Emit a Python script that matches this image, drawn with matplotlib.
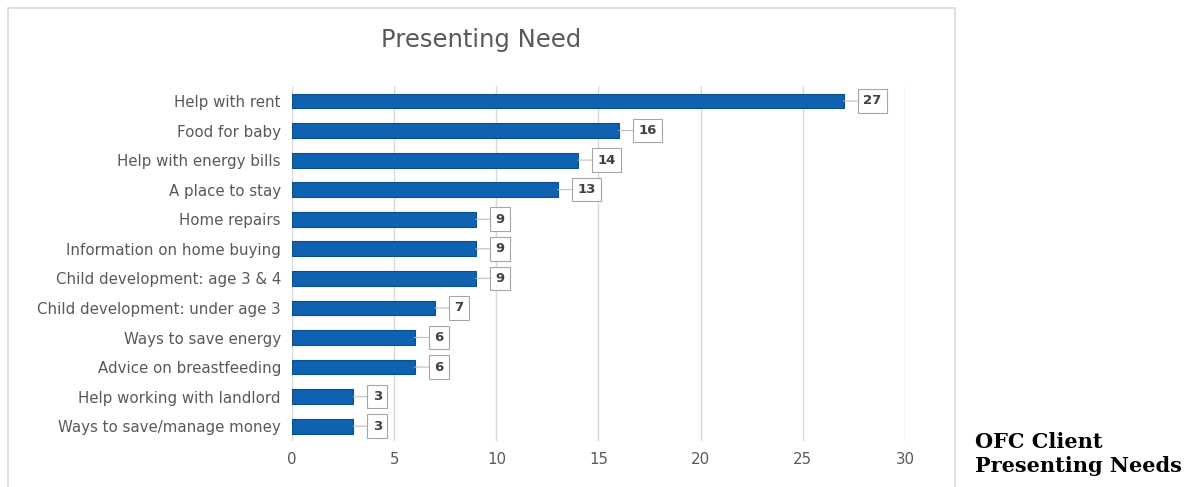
import matplotlib.pyplot as plt
from matplotlib.patches import Rectangle

categories = ["Help with rent", "Food for baby", "Help with energy bills", "A place to stay",
              "Home repairs", "Information on home buying", "Child development: age 3 & 4",
              "Child development: under age 3", "Ways to save energy", "Advice on breastfeeding",
              "Help working with landlord", "Ways to save/manage money"]
values = [27, 16, 14, 13, 9, 9, 9, 7, 6, 6, 3, 3]
x_ticks = [0, 5, 10, 15, 20, 25, 30]

fig = plt.figure(figsize=(11.89, 4.87), dpi=100)
fig.patches.append(Rectangle((8 / 1189, -0.05), 947 / 1189, 1 - 8 / 487 + 0.05,
                             transform=fig.transFigure, fill=False,
                             edgecolor="#d9d9d9", linewidth=1.2))

ax = fig.add_axes([0.2456, 0.0945, 0.5155, 0.7285])
y = list(range(len(categories)))[::-1]
ax.barh(y, values, height=0.5, color="#0f62b0", edgecolor="#0b4f93", linewidth=0.8, zorder=3)

for yi, v in zip(y, values):
    ax.annotate(str(v), xy=(v, yi), xytext=(14, 0), textcoords="offset points",
                ha="left", va="center", fontsize=9.5, color="#404040", fontweight="bold",
                bbox=dict(boxstyle="square,pad=0.4", fc="white", ec="#a6a6a6", lw=0.8),
                arrowprops=dict(arrowstyle="-", color="#bfbfbf", lw=0.8,
                                shrinkA=0, shrinkB=0),
                zorder=4)

ax.set_xlim(0, 30)
ax.set_ylim(-0.5, len(categories) - 0.5)
ax.set_xticks(x_ticks)
ax.set_yticks(y)
ax.set_yticklabels(categories)
ax.tick_params(axis="both", length=0, labelsize=10.8, labelcolor="#595959", pad=8)
ax.grid(axis="x", color="#d9d9d9", linewidth=1, zorder=0)
for s in ax.spines.values():
    s.set_visible(False)

fig.text(481 / 1189, 1 - 40 / 487, "Presenting Need", ha="center", va="center",
         fontsize=17.5, color="#595959")
fig.text(975 / 1189, 1 - 454 / 487, "OFC Client\nPresenting Needs", ha="left", va="center",
         fontsize=15, fontweight="bold", family="DejaVu Serif", color="black",
         linespacing=1.3)

plt.savefig("out.png", dpi=100)
